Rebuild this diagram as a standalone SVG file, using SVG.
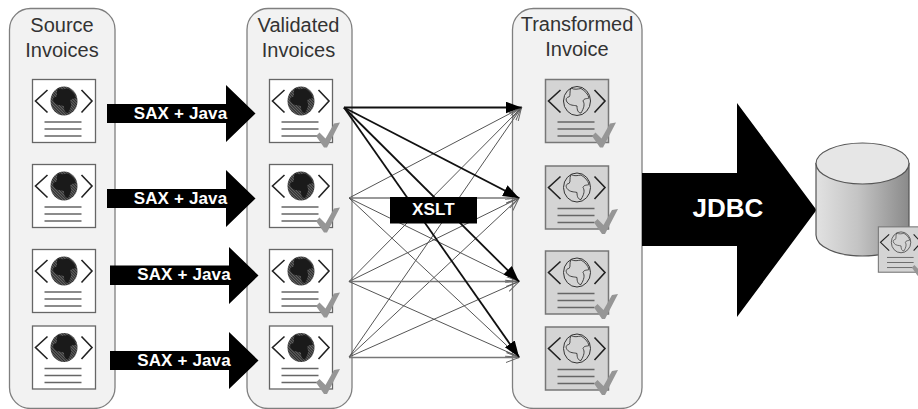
<svg xmlns="http://www.w3.org/2000/svg" width="918" height="409" viewBox="0 0 918 409">
<style>
text{font-family:"Liberation Sans",Arial,sans-serif;text-anchor:middle}
.title{font-size:20px;fill:#333}
.lbl{font-size:17px;font-weight:bold;fill:#fff;letter-spacing:.15px}
.panel{fill:#f2f2f2;stroke:#7f7f7f;stroke-width:1.3}
.arrow{fill:#000}
.rule{stroke:#666;stroke-width:1.3;fill:none}
.chev{stroke:#222;stroke-width:1.6;fill:none}
.thin{stroke:#555;stroke-width:1;fill:none;marker-end:url(#open)}
.flat{stroke:#777;stroke-width:1.5;fill:none;marker-end:url(#open)}
.heavy{stroke:#111;stroke-width:1.8;fill:none;marker-end:url(#solid)}
</style>
<defs>
<marker id="solid" markerUnits="userSpaceOnUse" markerWidth="17" markerHeight="13" refX="16" refY="6" orient="auto"><path d="M0 0L16 6L0 12Z" fill="#000"/></marker>
<marker id="open" markerUnits="userSpaceOnUse" markerWidth="14" markerHeight="12" refX="13" refY="5" orient="auto"><path d="M0 0L13 5L0 10" fill="none" stroke="#666" stroke-width="1"/></marker>
<pattern id="hatch" width="2" height="2" patternUnits="userSpaceOnUse" patternTransform="rotate(45)"><rect width="2" height="2" fill="#666"/><rect width="2" height="1" fill="#2a2a2a"/></pattern>
<path id="blob" d="M26 9C29 11 33 10 36 9.500C40 12 43 15 44 19C42 20 39 19 38 22C40 25 39 29 36 34C33 34 32 31 32 27C29 26 25 27 22 23C20 20 22 18 24 18C26 16 24 13 26 9Z"/>
<g id="frame"><path class="chev" d="M15.500 11L3.500 22L15.500 33.500M49.500 11L60 22L49.500 33.500"/><path class="rule" d="M12.500 43H49.500M12.500 50H49.500M12.500 57H49.500"/></g>
<g id="doc"><rect x=".5" y=".5" width="63" height="63" fill="#fff" stroke="#666" stroke-width="1.3"/><use href="#frame"/><ellipse cx="32" cy="22" rx="13.500" ry="14.500" fill="url(#hatch)"/><use href="#blob" fill="#1a1a1a"/></g>
<g id="tdoc"><rect x=".5" y=".5" width="63" height="63" fill="#d4d4d4" stroke="#777" stroke-width="1.5"/><use href="#frame"/><ellipse cx="32" cy="22" rx="13.500" ry="14.500" fill="none" stroke="#333" stroke-width="1"/><use href="#blob" fill="none" stroke="#333" stroke-width=".9"/></g>
<path id="check" d="M47 57L50.500 53.500L56.500 59.500L65 44.500L71 43.500L58 68.500L55 68.500Z" fill="#969696"/>
<linearGradient id="cyl" x1="0" x2="1" y1="0" y2="0"><stop offset="0" stop-color="#e2e2e2"/><stop offset=".45" stop-color="#c4c4c4"/><stop offset="1" stop-color="#8a8a8a"/></linearGradient>
</defs>
<g id="panel-source"><rect class="panel" x="9.500" y="8.500" width="105.500" height="400" rx="21"/><text class="title" x="62" y="32">Source</text><text class="title" x="62" y="57">Invoices</text></g>
<g id="panel-validated"><rect class="panel" x="247" y="8.500" width="105" height="400" rx="21"/><text class="title" x="298.500" y="32">Validated</text><text class="title" x="298.500" y="57">Invoices</text></g>
<g id="panel-transformed"><rect class="panel" x="512.500" y="8.500" width="129.500" height="400" rx="21"/><text class="title" x="577" y="31">Transformed</text><text class="title" x="577" y="56">Invoice</text></g>
<g id="source-1"><use href="#doc" x="32" y="79"/></g>
<g id="source-2"><use href="#doc" x="32" y="164"/></g>
<g id="source-3"><use href="#doc" x="32" y="249"/></g>
<g id="source-4"><use href="#doc" x="32" y="325.500"/></g>
<g id="valid-1"><use href="#doc" x="269" y="79"/><use href="#check" x="269" y="79"/></g>
<g id="valid-2"><use href="#doc" x="269" y="164"/><use href="#check" x="269" y="164"/></g>
<g id="valid-3"><use href="#doc" x="269" y="249"/><use href="#check" x="269" y="249"/></g>
<g id="valid-4"><use href="#doc" x="269" y="325.500"/><use href="#check" x="269" y="325.500"/></g>
<g id="trans-1"><use href="#tdoc" x="545" y="79"/><use href="#check" x="545" y="79"/></g>
<g id="trans-2"><use href="#tdoc" x="545" y="165.500"/><use href="#check" x="547" y="165.500"/></g>
<g id="trans-3"><use href="#tdoc" x="545" y="250.500"/><use href="#check" x="547" y="250.500"/></g>
<g id="trans-4"><use href="#tdoc" x="545" y="326.500"/><use href="#check" x="547" y="326.500"/></g>
<g id="connectors">
<path class="thin" d="M349 198L521.500 107.500"/><path class="thin" d="M349 281.500L521.500 107.500"/><path class="thin" d="M349 357L521.500 107.500"/>
<path class="flat" d="M349 198H519"/><path class="thin" d="M349 281.500L519 198"/><path class="thin" d="M349 357L519 198"/>
<path class="thin" d="M349 198L519 281.500"/><path class="flat" d="M349 281.500H519"/><path class="thin" d="M349 357L519 281.500"/>
<path class="thin" d="M349 198L519 357"/><path class="thin" d="M349 281.500L519 357"/><path class="flat" d="M349 357.500H519"/>
<path class="heavy" d="M344 107.500H521.500"/><path class="heavy" d="M344 107.500L519 198"/><path class="heavy" d="M344 107.500L519 281.500"/><path class="heavy" d="M344 107.500L519 357"/>
</g>
<g id="arrow-1"><path class="arrow" d="M107 104H226V85L255.500 113.500L226 142V123H107Z"/><text class="lbl" x="180.500" y="118.500">SAX + Java</text></g>
<g id="arrow-2"><path class="arrow" d="M107 189H226V170L255.500 198.500L226 227V208H107Z"/><text class="lbl" x="180.500" y="203.500">SAX + Java</text></g>
<g id="arrow-3"><path class="arrow" d="M110 265.500H229V247L258.500 275.500L229 304V285H110Z"/><text class="lbl" x="184" y="280">SAX + Java</text></g>
<g id="arrow-4"><path class="arrow" d="M110 351H229V332L258.500 360.500L229 389V370H110Z"/><text class="lbl" x="184" y="365.500">SAX + Java</text></g>
<g id="xslt"><rect x="390" y="197" width="87" height="26.500" fill="#000"/><text class="lbl" x="433.500" y="215">XSLT</text></g>
<g id="jdbc"><path class="arrow" d="M642 173H737V103L816.500 210L737 317V246H642Z"/><text x="728" y="217" font-size="26" font-weight="bold" fill="#fff">JDBC</text></g>
<g id="database"><path d="M816 163.500V235C816 247 837 256 862.500 256S909 247 909 235V163.500Z" fill="url(#cyl)" stroke="#555" stroke-width="1.2"/><ellipse cx="862.500" cy="163.500" rx="46.500" ry="20.500" fill="#e6e6e6" stroke="#555" stroke-width="1.2"/>
<g transform="translate(878 226.500) scale(.72)"><use href="#tdoc"/><use href="#check"/></g></g>
</svg>
